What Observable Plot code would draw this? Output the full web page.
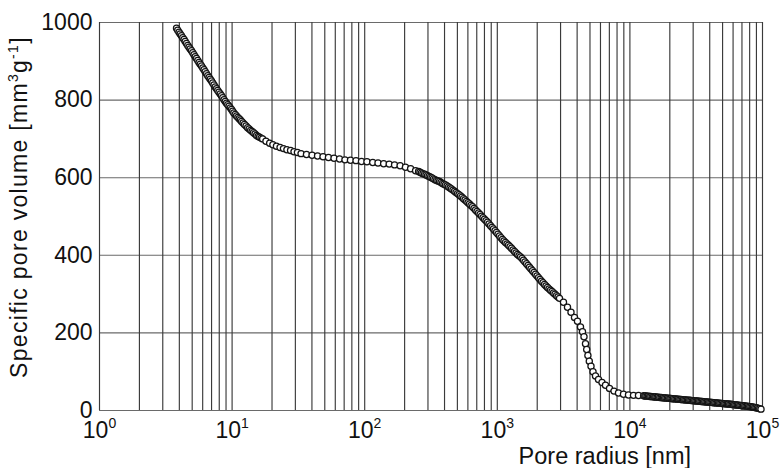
<!DOCTYPE html>
<html>
<head>
<meta charset="utf-8">
<script src="https://cdn.jsdelivr.net/npm/d3@7"></script>
<script src="https://cdn.jsdelivr.net/npm/@observablehq/plot@0.6"></script>
<style>
  html, body { margin: 0; padding: 0; background: #fff; }
  #chart { width: 780px; height: 468px; }
</style>
</head>
<body>
<div id="chart"></div>
<script>
// Pore radius [nm]
const radius = [
  3.81, 3.89, 3.98, 4.06, 4.15, 4.24, 4.34, 4.43, 4.53, 4.63, 4.73, 4.83, 4.94, 5.05, 5.16,
  5.27, 5.39, 5.51, 5.63, 5.75, 5.88, 6.01, 6.14, 6.27, 6.41, 6.55, 6.70, 6.84, 6.99, 7.14,
  7.30, 7.46, 7.63, 7.79, 7.96, 8.14, 8.32, 8.50, 8.69, 8.88, 9.07, 9.27, 9.48, 9.69, 9.90,
  10.1, 10.3, 10.55, 10.8, 11.05, 11.3, 11.55, 11.8, 12.1, 12.4, 12.75, 13.1, 13.45, 13.8, 14.15,
  14.5, 14.9, 15.3, 15.7, 16.1, 16.55, 17.0,
  18.0, 19.2, 20.3, 21.6, 23.0, 24.4, 25.9, 27.6, 29.3, 31.1, 33.1,
  36.4, 40.1, 44.1, 48.5, 53.3, 58.7, 64.6, 71.0, 78.1, 86.0, 94.6, 104, 115, 126, 139,
  153, 168, 185, 203, 222, 242,
  255, 261, 268, 275, 283, 290, 298, 306, 314, 322, 330, 339, 348, 357, 367,
  376, 386, 396, 407, 418, 429, 440, 451, 463, 476, 488, 501, 514, 528, 542,
  556, 571, 586, 601, 617, 633, 650, 667, 685, 703, 722, 741, 760, 780, 801,
  822, 844, 866, 889, 912, 936, 961, 986, 1012, 1039, 1066, 1094, 1123, 1153, 1184,
  1215, 1247, 1280, 1314, 1348, 1384, 1420, 1458, 1496, 1536, 1576, 1618, 1661, 1705, 1749,
  1795, 1843, 1892, 1942, 1993, 2045, 2099, 2154, 2211, 2270, 2330, 2391, 2454, 2519, 2586,
  2654, 2724, 2796, 2870, 2945,
  3156, 3384, 3595, 3821, 4025, 4240, 4390, 4506, 4626, 4723, 4823, 4941, 5089, 5269, 5503,
  5798, 6160, 6546, 7018, 7590, 8204, 8947, 9759, 10644, 11610,
  12700, 12950, 13200, 13500, 13800, 14100, 14400, 14750, 15100, 15400, 15700, 16050, 16400, 16800, 17200,
  17550, 17900, 18300, 18700, 19150, 19600, 20000, 20400, 20850, 21300, 21800, 22300, 22800, 23300, 23800,
  24300, 24850, 25400, 25950, 26500, 27100, 27700, 28300, 28900, 29550, 30200, 30850, 31500, 32200, 32900,
  33650, 34400, 35150, 35900, 36700, 37500, 38350, 39200, 40050, 40900, 41800, 42700, 43650, 44600, 45600,
  46600, 47600, 48600, 49700, 50800, 51950, 53100, 54250, 55400, 56650, 57900, 59150, 60400, 61750, 63100,
  64500, 65900, 67350, 68800, 70350, 71900, 73500, 75100, 76750, 78400, 80150, 81900, 83700, 85500, 87400,
  89300, 91300, 93300, 95350, 97400
];
// Specific pore volume [mm3 g-1]
const volume = [
  985, 980, 975, 970.5, 966, 961, 956, 951, 946, 941, 936, 931.5, 927, 922, 917,
  912, 907, 902, 897, 892.5, 888, 883, 878, 873, 868, 863, 858, 853.5, 849, 844,
  839, 834, 829, 824.5, 820, 815.5, 811, 806, 801, 796.5, 792, 788, 784, 780, 776,
  771.5, 767, 763, 759, 755.5, 752, 748.5, 745, 741, 737, 733, 729, 725.5, 722, 719,
  716, 712.5, 709, 706.5, 704, 702, 700,
  694, 689, 685, 681, 678, 675, 672, 670, 667, 665, 662,
  660, 658, 656, 654, 652, 650, 648, 646, 645, 644, 642, 641, 639, 638, 636,
  635, 633, 631, 627, 623, 618,
  616, 614, 612, 610.5, 609, 607, 605, 603, 601, 599, 597, 595, 593, 591.5, 590,
  587.5, 585, 583, 581, 578.5, 576, 573.5, 571, 568, 565, 562, 559, 556, 553, 549.5,
  546, 542.5, 539, 535.5, 532, 528.5, 525, 521, 517, 513, 509, 505, 501, 497, 493,
  489, 485, 480.5, 476, 472, 468, 463.5, 459, 454.5, 450, 445.5, 441, 437, 433, 429.5,
  426, 422, 418, 414, 410, 406, 402, 399, 396, 391.5, 387, 382.5, 378, 373.5, 369,
  364.5, 360, 355.5, 351, 346.5, 342, 337.5, 333, 329, 325, 321, 317, 313.5, 310, 306.5,
  303, 299.5, 296, 292.5, 289,
  279, 266, 253, 240, 230, 215, 203, 190, 172, 157, 142, 127, 114, 100, 89,
  80, 72, 65, 57, 50, 45, 42, 40, 39, 38.5,
  38, 37.6, 37.3, 37, 36.6, 36.2, 35.9, 35.5, 35.2, 34.9, 34.6, 34.3, 34, 33.7, 33.4,
  33, 32.7, 32.4, 32.1, 31.8, 31.5, 31.2, 30.9, 30.5, 30.2, 29.9, 29.6, 29.3, 29, 28.7,
  28.4, 28, 27.7, 27.4, 27.1, 26.8, 26.5, 26.2, 25.9, 25.5, 25.2, 24.9, 24.6, 24.3, 24,
  23.7, 23.4, 23, 22.7, 22.4, 22.1, 21.8, 21.5, 21.2, 20.9, 20.5, 20.2, 19.9, 19.6, 19.3,
  19, 18.7, 18.4, 18, 17.7, 17.4, 17.1, 16.8, 16.5, 16.2, 15.9, 15.5, 15.1, 14.8, 14.4,
  14, 13.6, 13.2, 12.9, 12.4, 12, 11.6, 11.3, 10.9, 10.5, 10, 9.5, 9, 8.4, 7.8,
  7.2, 6.4, 5.5, 4.5, 3.5
];

const xTicks = [1, 10, 100, 1000, 10000, 100000];
const xGrid = [
  1, 2, 3, 4, 5, 6, 7, 8, 9,
  10, 20, 30, 40, 50, 60, 70, 80, 90,
  100, 200, 300, 400, 500, 600, 700, 800, 900,
  1000, 2000, 3000, 4000, 5000, 6000, 7000, 8000, 9000,
  10000, 20000, 30000, 40000, 50000, 60000, 70000, 80000, 90000,
  100000
];
const yTicks = [0, 200, 400, 600, 800, 1000];
const xTitle = "Pore radius [nm]";
const yTitleParts = ["Specific pore volume [mm", "3", "g", "-1", "]"];

const data = radius.map((r, i) => ({r, v: volume[i]}));

const svg = Plot.plot({
  width: 780,
  height: 468,
  marginLeft: 99,
  marginRight: 18,
  marginTop: 22,
  marginBottom: 58,
  style: {
    background: "#fff",
    color: "#111",
    fontFamily: "'Liberation Sans', Arial, Helvetica, sans-serif",
    fontSize: "23px"
  },
  x: {
    type: "log",
    domain: [1, 100000],
    ticks: xTicks,
    tickFormat: d => "10^" + Math.round(Math.log10(d)),
    tickSize: 0,
    tickPadding: 11,
    label: null
  },
  y: {
    domain: [0, 1000],
    ticks: yTicks,
    tickFormat: d => String(d),
    tickSize: 0,
    tickPadding: 7,
    label: null
  },
  marks: [
    Plot.ruleY(yTicks, {stroke: "#6a6a6a", strokeWidth: 1.1}),
    Plot.ruleX(xGrid, {stroke: "#3a3a3a", strokeWidth: 1.15}),
    Plot.dot(data, {x: "r", y: "v", r: 3.1, stroke: "#141414", strokeWidth: 1.25, fill: "#fff"})
  ]
});

const s = d3.select(svg);
s.selectAll("text").each(function () {
  const t = this.textContent;
  if (/^10\^/.test(t)) {
    const e = t.split("^")[1];
    const el = d3.select(this);
    el.text("");
    el.append("tspan").text("10");
    el.append("tspan").attr("dy", "-10").attr("font-size", "14px").text(e);
  }
});

s.append("text")
  .attr("x", 691)
  .attr("y", 464)
  .attr("text-anchor", "end")
  .attr("font-size", "23.5px")
  .attr("fill", "#111")
  .text(xTitle);

const yt = s.append("text")
  .attr("transform", "translate(27,207) rotate(-90)")
  .attr("text-anchor", "middle")
  .attr("font-size", "23px")
  .attr("letter-spacing", "1.3px")
  .attr("fill", "#111");
yt.append("tspan").text(yTitleParts[0]);
yt.append("tspan").attr("dy", "-9").attr("font-size", "14px").text(yTitleParts[1]);
yt.append("tspan").attr("dy", "9").text(yTitleParts[2]);
yt.append("tspan").attr("dy", "-9").attr("font-size", "14px").text(yTitleParts[3]);
yt.append("tspan").attr("dy", "9").text(yTitleParts[4]);

document.getElementById("chart").appendChild(svg);
</script>
</body>
</html>
